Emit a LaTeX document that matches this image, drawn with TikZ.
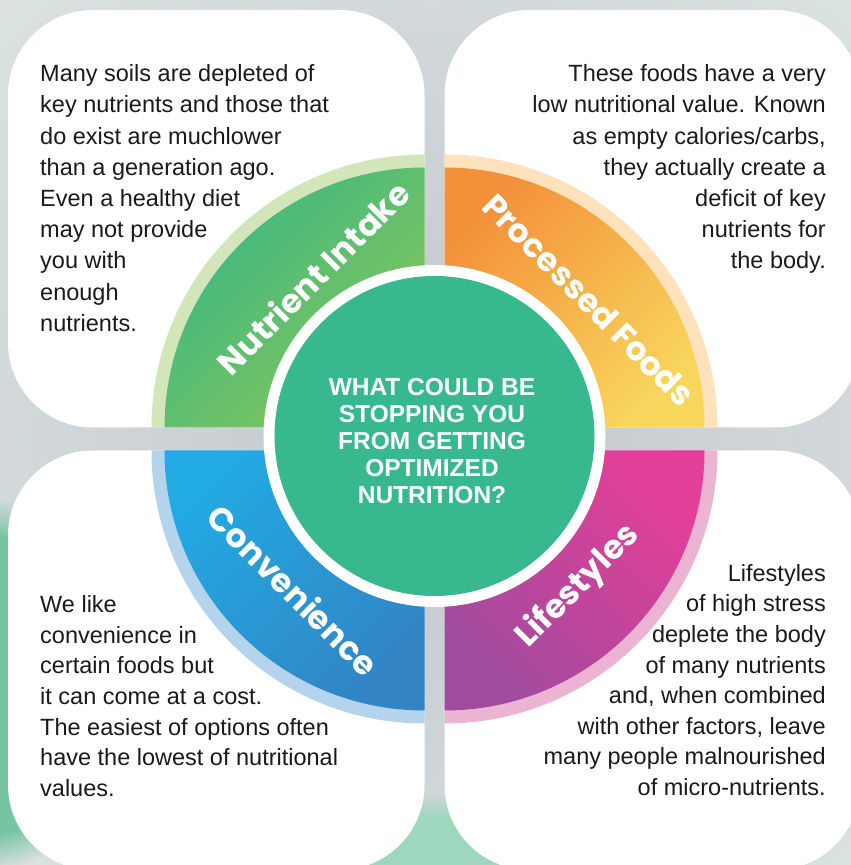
\documentclass[tikz,border=0pt]{standalone}
\usepackage{fontspec}
\setmainfont{Liberation Sans}
\newfontfamily\labelfont{Poppins}
\usetikzlibrary{fadings}

\definecolor{bgpale}{RGB}{230,238,235}
\definecolor{gapgray}{RGB}{192,197,203}
\definecolor{leafgreen}{RGB}{118,196,162}
\definecolor{inkblack}{RGB}{26,26,26}
\definecolor{hubgreen}{RGB}{56,184,143}
\definecolor{greenA}{RGB}{58,183,134}
\definecolor{greenB}{RGB}{134,198,88}
\definecolor{greenband}{RGB}{211,230,186}
\definecolor{orangeA}{RGB}{243,144,58}
\definecolor{orangeB}{RGB}{248,214,92}
\definecolor{orangeband}{RGB}{253,226,188}
\definecolor{blueA}{RGB}{34,170,226}
\definecolor{blueB}{RGB}{50,132,197}
\definecolor{blueband}{RGB}{180,212,238}
\definecolor{pinkA}{RGB}{228,63,152}
\definecolor{pinkB}{RGB}{160,76,158}
\definecolor{pinkband}{RGB}{234,180,210}

\tikzset{
  card/.style={fill=white, rounded corners=85pt},
  bodytext/.style={inner sep=0pt, text=inkblack, font=\fontsize{23.5}{30.6}\selectfont},
  toptext/.style={bodytext, font=\fontsize{23.5}{31.2}\selectfont},
  ringlabel/.style={inner sep=0pt, text=white, font=\labelfont\bfseries\fontsize{33}{33}\selectfont},
}

\begin{document}
\begin{tikzpicture}[x=1pt,y=1pt]
    \useasboundingbox (0,0) rectangle (851,865);
    \clip (0,0) rectangle (851,865);

    % Background
    \fill[bgpale] (0,0) rectangle (851,865);
    \shade[inner color=gapgray, outer color=bgpale] (434.5,429) circle[radius=860];
    \fill[leafgreen, path fading=circle with fuzzy edge 20 percent] (-40,180) circle[radius=190];
    \fill[leafgreen!70, path fading=circle with fuzzy edge 20 percent] (434.5,-40) circle[radius=110];

    % Four cards
    \fill[card] (8,437.5) rectangle (424.5,855);
    \fill[card] (444.5,437.5) rectangle (860,855);
    \fill[card] (8,-5) rectangle (424.5,414.5);
    \fill[card] (444.5,-5) rectangle (860,414.5);

    % Nutrient intake quarter
    \fill[greenband] (424.5,437.5) -- ++(180:273) arc[start angle=180, end angle=90, radius=273] -- cycle;
    \shade[top color=greenA, bottom color=greenB, shading angle=45]
        (424.5,437.5) -- ++(180:260) arc[start angle=180, end angle=90, radius=260] -- cycle;

    % Processed foods quarter
    \fill[orangeband] (444.5,437.5) -- ++(90:273) arc[start angle=90, end angle=0, radius=273] -- cycle;
    \shade[top color=orangeA, bottom color=orangeB, shading angle=45]
        (444.5,437.5) -- ++(90:260) arc[start angle=90, end angle=0, radius=260] -- cycle;

    % Convenience quarter
    \fill[blueband] (424.5,414.5) -- ++(270:273) arc[start angle=270, end angle=180, radius=273] -- cycle;
    \shade[top color=blueA, bottom color=blueB, shading angle=45]
        (424.5,414.5) -- ++(270:260) arc[start angle=270, end angle=180, radius=260] -- cycle;

    % Lifestyles quarter
    \fill[pinkband] (444.5,414.5) -- ++(0:273) arc[start angle=0, end angle=-90, radius=273] -- cycle;
    \shade[top color=pinkA, bottom color=pinkB, shading angle=-45]
        (444.5,414.5) -- ++(0:260) arc[start angle=0, end angle=-90, radius=260] -- cycle;

    % Hub
    \fill[white] (434.5,429) circle[radius=171];
    \fill[hubgreen] (434.5,429) circle[radius=160];
    \node (hub) [text=white, align=center, font=\bfseries\fontsize{24.5}{27}\selectfont]
        at (432,424) {WHAT COULD BE\\STOPPING YOU\\FROM GETTING\\OPTIMIZED\\NUTRITION?};

    % Ring labels
    \node (intake) [ringlabel, rotate=45] at (313,587.5) {Nutrient Intake};
    \node (processed) [ringlabel, rotate=-45] at (589,565) {Processed Foods};
    \node (convenience) [ringlabel, rotate=-45] at (293.5,275) {Convenience};
    \node (lifestyles) [ringlabel, rotate=45] at (578.5,278.5) {Lifestyles};

    % Card texts
    \node (soils) [toptext, anchor=north west, align=left] at (40,800.5)
        {Many soils are depleted of\\key nutrients and those that\\do exist are muchlower\\than a generation ago.\\Even a healthy diet\\may not provide\\you with\\enough\\nutrients.};
    \node (foods) [toptext, anchor=north east, align=right] at (826,800.5)
        {These foods have a very\\low nutritional value. Known\\as empty calories/carbs,\\they actually create a\\deficit of key\\nutrients for\\the body.};
    \node (ease) [bodytext, anchor=north west, align=left] at (40,269.5)
        {We like\\convenience in\\certain foods but\\it can come at a cost.\\The easiest of options often\\have the lowest of nutritional\\values.};
    \node (stress) [bodytext, anchor=north east, align=right] at (826,301)
        {Lifestyles\\of high stress\\deplete the body\\of many nutrients\\and, when combined\\with other factors, leave\\many people malnourished\\of micro-nutrients.};
\end{tikzpicture}
\end{document}
